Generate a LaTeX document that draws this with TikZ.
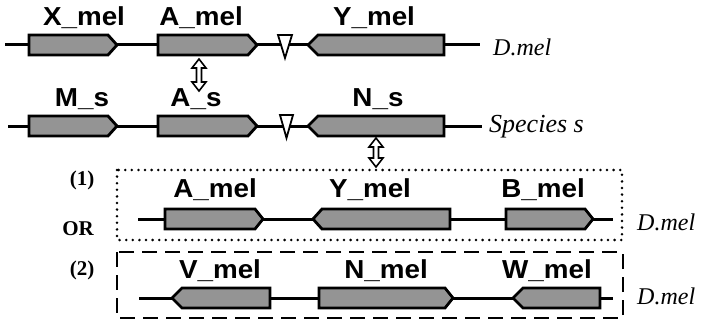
\documentclass[tikz,border=0pt]{standalone}
\usepackage{fontspec}
\setmainfont{Liberation Serif}
\setsansfont{Liberation Sans}
\begin{document}
\begin{tikzpicture}[x=1pt,y=-1pt,
  backbone/.style={line width=3pt},
  genebox/.style={draw=black,line width=2.8pt,fill=black!42,line join=miter},
  insertion/.style={draw=black,line width=1.8pt,fill=white,line join=miter},
  homology/.style={draw=black,line width=1.6pt,fill=white,line join=miter},
  genelabel/.style={font=\sffamily\bfseries\fontsize{26}{26}\selectfont,inner sep=0pt,xscale=1.07,transform shape},
  species/.style={font=\itshape\fontsize{24}{24}\selectfont,anchor=west,inner sep=0pt},
  optlabel/.style={font=\bfseries\fontsize{21}{21}\selectfont,inner sep=0pt},
  optbox/.style={line width=2.8pt}]
\useasboundingbox (0,0) rectangle (710,321);

% forward gene: body x1..x2, tip at x3, centred on y
\newcommand\fwdgene[4]{\path[genebox] (#1,#4-10) -- (#2,#4-10) -- (#3,#4) -- (#2,#4+10) -- (#1,#4+10) -- cycle;}
% reverse gene: tip at x1, body x2..x3, centred on y
\newcommand\revgene[4]{\path[genebox] (#1,#4) -- (#2,#4-10) -- (#3,#4-10) -- (#3,#4+10) -- (#2,#4+10) -- cycle;}
% open double-headed vertical arrow centred on x, from y1 down to y2
\newcommand\dblarrow[3]{\path[homology] (#1,#2) -- (#1+7,#2+9) -- (#1+2.5,#2+9) -- (#1+2.5,#3-9) -- (#1+7,#3-9) -- (#1,#3) -- (#1-7,#3-9) -- (#1-2.5,#3-9) -- (#1-2.5,#2+9) -- (#1-7,#2+9) -- cycle;}

% ---- D. melanogaster reference region
\draw[backbone] (5,45) -- (480,45);
\fwdgene{29}{108}{117}{45}
\fwdgene{158}{248}{257}{45}
\revgene{308}{318}{444}{45}
\path[insertion] (278,35) -- (292,35) -- (285,58) -- cycle;
\node[genelabel] (xmel) at (84,18) {X\_mel};
\node[genelabel] (amel) at (201,18) {A\_mel};
\node[genelabel] (ymel) at (374,18) {Y\_mel};
\node[species] (dmel1) at (493,47) {D.mel};

\dblarrow{199}{59}{91}

% ---- species s region
\draw[backbone] (8,126) -- (482,126);
\fwdgene{29}{108}{117}{126}
\fwdgene{158}{248}{257}{126}
\revgene{308}{318}{444}{126}
\path[insertion] (280,115) -- (293,115) -- (286.5,138) -- cycle;
\node[genelabel] (ms) at (82,99) {M\_s};
\node[genelabel] (as) at (196,99) {A\_s};
\node[genelabel] (ns) at (378,99) {N\_s};
\node[species,font=\itshape\fontsize{26}{26}\selectfont] (spec) at (489,127) {Species s};

\dblarrow{376}{138}{167}

% ---- option (1)
\draw[optbox,line cap=round,dash pattern=on 0pt off 6.6pt] (117,170) rectangle (622,240);
\node[optlabel] (opt1) at (82,180) {(1)};
\node[optlabel] (or) at (78,229) {OR};
\draw[backbone] (138,219) -- (613,219);
\fwdgene{165}{255}{263}{219}
\revgene{313}{322}{450}{219}
\fwdgene{506}{585}{593}{219}
\node[genelabel] (amel2) at (215,190) {A\_mel};
\node[genelabel] (ymel2) at (370,190) {Y\_mel};
\node[genelabel] (bmel) at (543,190) {B\_mel};
\node[species] (dmel2) at (637,222) {D.mel};

% ---- option (2)
\draw[optbox,dash pattern=on 15pt off 8pt] (117,252) rectangle (623,318);
\node[optlabel] (opt2) at (82,270) {(2)};
\draw[backbone] (139,298) -- (613,298);
\revgene{172}{182}{270}{298}
\fwdgene{319}{445}{453}{298}
\revgene{513}{523}{600}{298}
\node[genelabel] (vmel) at (220,271) {V\_mel};
\node[genelabel] (nmel) at (386,271) {N\_mel};
\node[genelabel] (wmel) at (547,271) {W\_mel};
\node[species] (dmel3) at (637,296) {D.mel};
\end{tikzpicture}
\end{document}
